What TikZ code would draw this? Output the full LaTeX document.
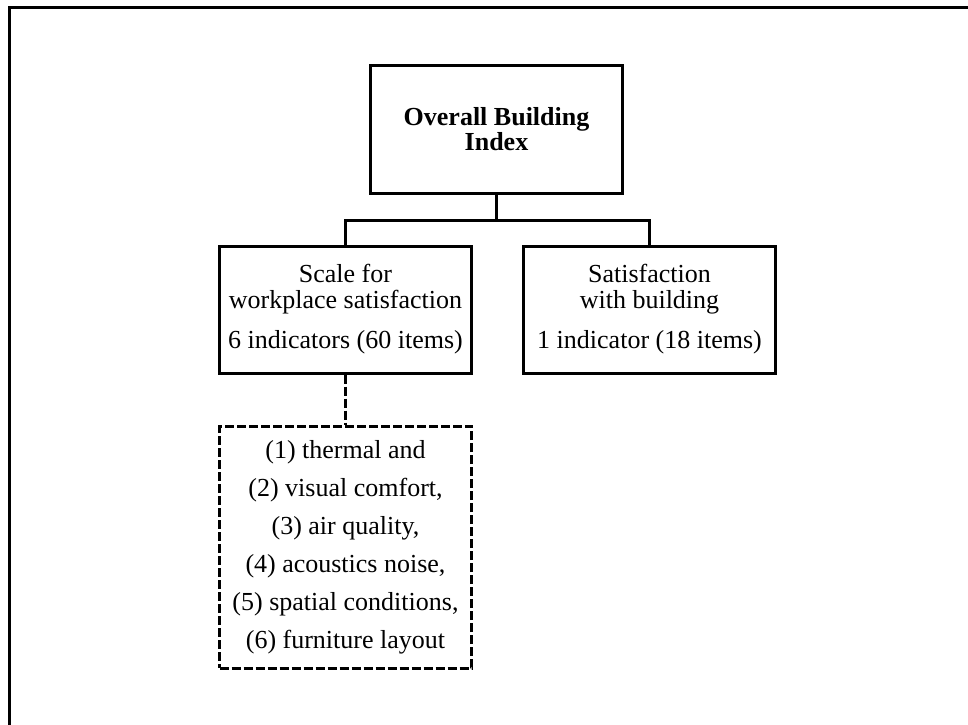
\documentclass[tikz,border=0pt]{standalone}
\usepackage{fontspec}
\setmainfont{Liberation Serif}
\usepackage{tikz}
\usetikzlibrary{positioning}
\tikzstyle{box}=[rectangle, draw=black, line width=3pt, minimum width=252pt, minimum height=127pt, align=center, inner sep=0pt, font=\fontsize{26pt}{26pt}\selectfont]
\tikzstyle{topbox}=[box, minimum height=128pt, font=\fontsize{26pt}{25pt}\selectfont\bfseries]
\tikzstyle{listbox}=[box, dash pattern=on 9pt off 3pt, minimum height=242pt, font=\fontsize{26pt}{38pt}\selectfont]
\tikzstyle{link}=[draw=black, line width=3pt]

\begin{document}
\begin{tikzpicture}[x=1pt, y=1pt]
      \useasboundingbox (0,0) rectangle (968,-724);
      % frame
      \draw[line width=3pt] (9.5,-740) -- (9.5,-7.5) -- (980,-7.5);

      \node[topbox] (obi) at (496.5,-129) {Overall Building\\Index};
	   \node[box] (scale) [below=50pt of obi, xshift=-151pt] {Scale for\\workplace satisfaction\\[14pt]6 indicators (60 items)};
	   \node[box] (bldg) [right=49pt of scale] {Satisfaction\\with building\\[14pt]1 indicator (18 items)};
	   \node[listbox] (items) [below=50pt of scale] {(1) thermal and\\(2) visual comfort,\\(3) air quality,\\(4) acoustics noise,\\(5) spatial conditions,\\(6) furniture layout};

      \draw[link] (obi.south) -- ++(0,-26) -| (scale.north);
      \draw[link] (obi.south) -- ++(0,-26) -| (bldg.north);
      \draw[link, dash pattern=on 9pt off 3pt] (scale.south) -- (items.north);
  \end{tikzpicture}
\end{document}
